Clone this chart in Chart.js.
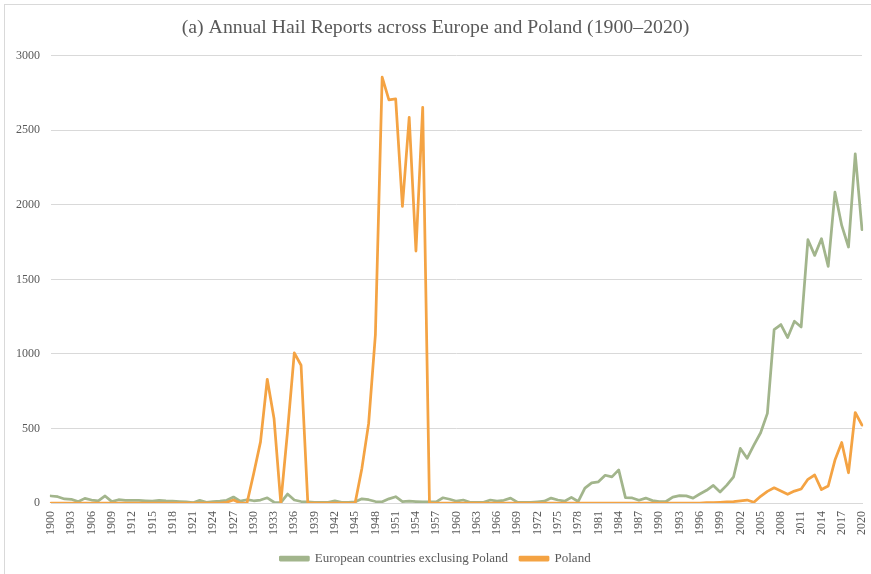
<!DOCTYPE html>
<html>
<head>
<meta charset="utf-8">
<script src="https://cdn.jsdelivr.net/npm/chart.js@4"></script>
<style>
  body { margin: 0; background: #fff; }
  #frame { position: absolute; left: 4px; top: 4px; width: 867px; height: 570px;
           border-left: 1px solid #d9d9d9; border-top: 1px solid #d9d9d9; }
  #wrap { position: absolute; left: 0; top: 0; width: 871px; height: 574px; }
</style>
</head>
<body>
<div id="frame"></div>
<div id="wrap"><canvas id="myChart" width="871" height="574"></canvas></div>
<script>
// Años (eje X)
const years = [];
for (let y = 1900; y <= 2020; y++) years.push(String(y));

// Reportes de granizo: Europa sin Polonia
const europe = [
  47, 42, 27, 25, 9, 31, 20, 15, 47, 9,
  22, 18, 18, 18, 15, 12, 18, 14, 12, 10,
  7, 2, 18, 5, 10, 12, 18, 40, 12, 22,
  15, 20, 35, 5, 2, 60, 20, 10, 8, 5,
  5, 5, 15, 5, 5, 8, 28, 22, 10, 8,
  28, 42, 10, 12, 10, 8, 8, 8, 35, 25,
  12, 20, 5, 5, 5, 20, 12, 18, 33, 6,
  5, 5, 8, 12, 33, 20, 12, 38, 10, 100,
  135, 142, 186, 175, 222, 36, 34, 18, 33, 16,
  10, 10, 40, 50, 48, 33, 60, 85, 118, 74,
  120, 176, 366, 300, 388, 471, 601, 1163, 1197, 1110,
  1219, 1181, 1766, 1661, 1773, 1587, 2085, 1862, 1717, 2342,
  1833
];

// Reportes de granizo: Polonia
const poland = [
  0, 0, 0, 0, 0, 0, 0, 0, 0, 0,
  0, 0, 0, 0, 0, 0, 0, 0, 0, 0,
  0, 0, 0, 0, 0, 0, 5, 20, 0, 0,
  200, 410, 830, 567, 0, 480, 1007, 924, 0, 0,
  0, 0, 0, 0, 0, 0, 232, 534, 1130, 2856,
  2704, 2711, 1989, 2587, 1690, 2654, 0, 0, 0, 0,
  0, 0, 0, 0, 0, 0, 0, 0, 0, 0,
  0, 0, 0, 0, 0, 0, 0, 0, 0, 0,
  0, 0, 0, 0, 0, 0, 0, 0, 0, 0,
  0, 0, 0, 0, 0, 0, 0, 2, 3, 5,
  8, 10, 15, 20, 5, 45, 78, 102, 80, 58,
  80, 94, 159, 188, 90, 114, 288, 406, 203, 607,
  522
];

// Marcas del eje Y
const yTicks = [0, 500, 1000, 1500, 2000, 2500, 3000];

const serif = '"Liberation Serif", "Times New Roman", serif';
const grey = '#595959';

const ctx = document.getElementById('myChart').getContext('2d');
const myChart = new Chart(ctx, {
    type: 'line',
    data: {
        labels: years,
        datasets: [{
            label: 'European countries exclusing Poland',
            data: europe,
            borderColor: '#a2b58c',
            backgroundColor: '#a2b58c',
            order: 1
        }, {
            label: 'Poland',
            data: poland,
            borderColor: '#f4a343',
            backgroundColor: '#f4a343',
            order: 0
        }]
    },
    options: {
        responsive: false,
        animation: false,
        devicePixelRatio: 1,
        layout: { padding: { left: 0, right: 0, top: 0, bottom: -1 } },
        elements: {
            line: { borderWidth: 2.75, tension: 0, borderJoinStyle: 'round', borderCapStyle: 'round' },
            point: { radius: 0 }
        },
        plugins: {
            title: {
                display: true,
                text: '(a) Annual Hail Reports across Europe and Poland (1900–2020)',
                color: grey,
                font: { family: serif, size: 19.8, weight: 'normal' },
                padding: { top: 16, bottom: 16 }
            },
            legend: {
                position: 'bottom',
                labels: {
                    color: grey,
                    font: { family: serif, size: 13 },
                    boxWidth: 28,
                    boxHeight: 3,
                    padding: 12,
                    sort: (a, b) => a.datasetIndex - b.datasetIndex
                }
            },
            tooltip: { enabled: false }
        },
        scales: {
            x: {
                offset: false,
                grid: { display: false, drawTicks: false },
                border: { display: true, color: '#d9d9d9', width: 1 },
                ticks: {
                    autoSkip: false,
                    minRotation: 90,
                    maxRotation: 90,
                    padding: 8,
                    color: grey,
                    font: { family: serif, size: 12 },
                    callback: (v, i) => (i % 3 === 0 ? years[i] : null)
                },
                afterFit: (scale) => {
                    scale.height = 37;
                    scale.paddingLeft = 0;
                    scale.paddingRight = 9;
                }
            },
            y: {
                min: 0,
                max: 3000,
                afterBuildTicks: (scale) => { scale.ticks = yTicks.map(v => ({ value: v })); },
                grid: { color: '#d9d9d9', drawTicks: false },
                border: { display: false },
                ticks: {
                    padding: 11,
                    color: grey,
                    font: { family: serif, size: 12 },
                    callback: (v) => String(v)
                },
                afterFit: (scale) => { scale.width = 51; }
            }
        }
    }
});
</script>
</body>
</html>
